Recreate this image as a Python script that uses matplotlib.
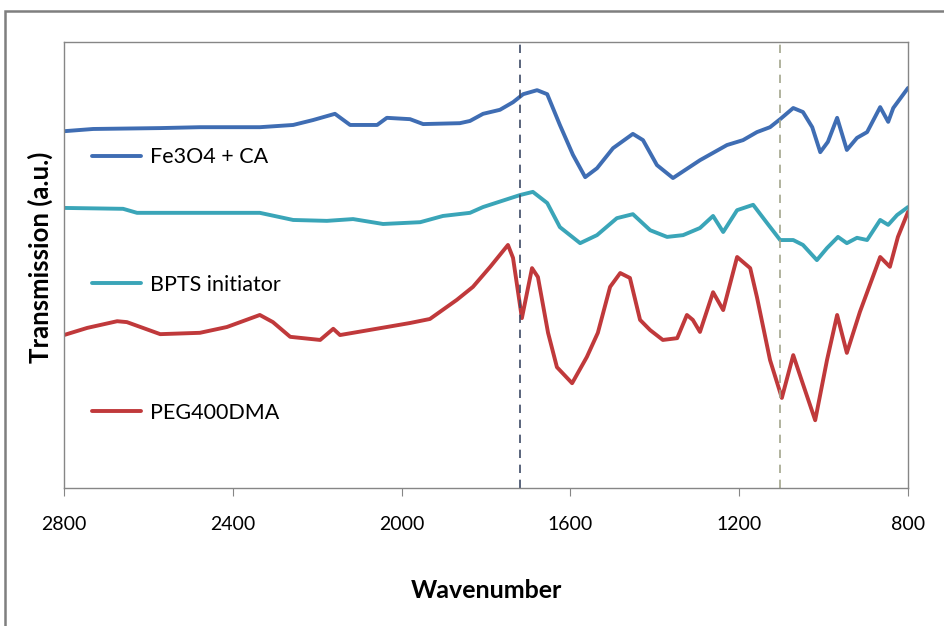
import matplotlib.pyplot as plt
from matplotlib.patches import Rectangle

plt.rcParams['font.family'] = ['Lato', 'DejaVu Sans']

# Fe3O4 + CA
fe_wn = [2800, 2731, 2572, 2478, 2336, 2257, 2210, 2158, 2122, 2058, 2035, 1980, 1949,
         1862, 1838, 1807, 1767, 1736, 1712, 1679, 1655, 1625, 1594, 1565, 1537, 1499,
         1452, 1428, 1395, 1357, 1293, 1229, 1191, 1158, 1127, 1103, 1072, 1049, 1027,
         1008, 990, 968, 945, 921, 897, 866, 847, 835, 800]
fe_t = [80.0, 80.5, 80.7, 80.9, 80.9, 81.4, 82.5, 83.9, 81.4, 81.4, 83.0, 82.7, 81.6,
        81.8, 82.3, 83.9, 84.8, 86.5, 88.3, 89.2, 88.3, 81.4, 74.7, 69.7, 71.7, 76.2,
        79.4, 78.0, 72.4, 69.5, 73.5, 76.9, 78.0, 79.8, 80.9, 82.7, 85.2, 84.3, 80.9,
        75.3, 77.6, 83.0, 75.8, 78.5, 79.8, 85.4, 82.1, 85.2, 89.7]

# BPTS initiator
bpts_wn = [2800, 2660, 2627, 2414, 2336, 2257, 2177, 2115, 2044, 1956, 1902, 1838, 1807,
           1719, 1689, 1655, 1625, 1577, 1537, 1490, 1452, 1411, 1371, 1333, 1293, 1262,
           1238, 1205, 1167, 1134, 1103, 1072, 1049, 1016, 992, 966, 945, 921, 897, 866,
           847, 826, 800]
bpts_t = [62.8, 62.6, 61.7, 61.7, 61.7, 60.1, 59.9, 60.3, 59.2, 59.6, 61.0, 61.7, 63.0,
          65.7, 66.4, 63.9, 58.5, 54.9, 56.7, 60.5, 61.4, 57.8, 56.3, 56.7, 58.3, 61.0,
          57.4, 62.3, 63.5, 59.4, 55.6, 55.6, 54.5, 51.1, 53.8, 56.3, 54.9, 56.1, 55.6,
          60.1, 59.0, 61.2, 63.0]

# PEG400DMA
peg_wn = [2800, 2745, 2674, 2651, 2572, 2478, 2414, 2336, 2305, 2264, 2193, 2162, 2146,
          2035, 1980, 1933, 1869, 1831, 1790, 1748, 1736, 1715, 1691, 1677, 1653, 1632,
          1596, 1561, 1535, 1506, 1482, 1459, 1435, 1411, 1381, 1347, 1324, 1310, 1293,
          1262, 1238, 1205, 1174, 1158, 1127, 1099, 1072, 1049, 1020, 992, 968, 945, 914,
          866, 843, 824, 800]
peg_t = [34.3, 35.9, 37.4, 37.2, 34.5, 34.8, 36.1, 38.8, 37.2, 33.9, 33.2, 35.7, 34.3,
         36.1, 37.0, 37.9, 42.2, 45.1, 49.6, 54.5, 51.6, 38.1, 49.3, 47.3, 34.8, 27.1,
         23.5, 29.4, 34.8, 45.1, 48.2, 47.1, 37.7, 35.4, 33.2, 33.6, 38.8, 37.7, 35.0,
         43.9, 39.9, 51.8, 49.3, 42.8, 28.7, 20.2, 29.8, 23.3, 15.2, 28.7, 38.8, 30.3,
         39.5, 51.8, 49.6, 56.3, 61.9]

marker_lines = [1720, 1103]
xticks = [2800, 2400, 2000, 1600, 1200, 800]

fig = plt.figure(figsize=(9.44, 6.26), dpi=100)
ax = fig.add_axes([0.0678, 0.2204, 0.8941, 0.7125])

# chart-area frame (only left/top edges show in the crop)
fig.patches.append(Rectangle((0.0055, -0.1), 1.2, 1.0825, transform=fig.transFigure,
                             fill=False, edgecolor='#7f7f7f', linewidth=1.8))

line_kw = dict(lw=2.8, solid_joinstyle='round', solid_capstyle='round')
ax.plot(fe_wn, fe_t, color='#3f6db3', label='Fe3O4 + CA', **line_kw)
ax.plot(bpts_wn, bpts_t, color='#3aa5b8', label='BPTS initiator', **line_kw)
ax.plot(peg_wn, peg_t, color='#c0393b', label='PEG400DMA', **line_kw)

ax.axvline(marker_lines[0], color='#3d4a66', lw=1.2, dashes=(5, 4))
ax.axvline(marker_lines[1], color='#a3a68c', lw=1.2, dashes=(5, 4))

ax.set_xlim(2800, 800)
ax.set_ylim(0, 100)
ax.set_xticks(xticks)
ax.set_yticks([])
ax.tick_params(axis='x', direction='out', length=6, color='#868686', labelsize=14, pad=14)
for s in ax.spines.values():
    s.set_color('#868686')
    s.set_linewidth(1.0)

ax.set_xlabel('Wavenumber', fontsize=18, fontweight='bold', va='center')
ax.xaxis.set_label_coords(0.5, -0.229)
ax.set_ylabel('Transmission (a.u.)', fontsize=18.5, fontweight='bold', va='center')
ax.yaxis.set_label_coords(-0.028, 0.518)

ax.legend(loc='upper left', bbox_to_anchor=(0.033, 0.764), frameon=False, fontsize=15.5,
          handlelength=2.3, handletextpad=0.4, labelspacing=5.0, borderpad=0, borderaxespad=0)

fig.savefig('out.png', dpi=100)
